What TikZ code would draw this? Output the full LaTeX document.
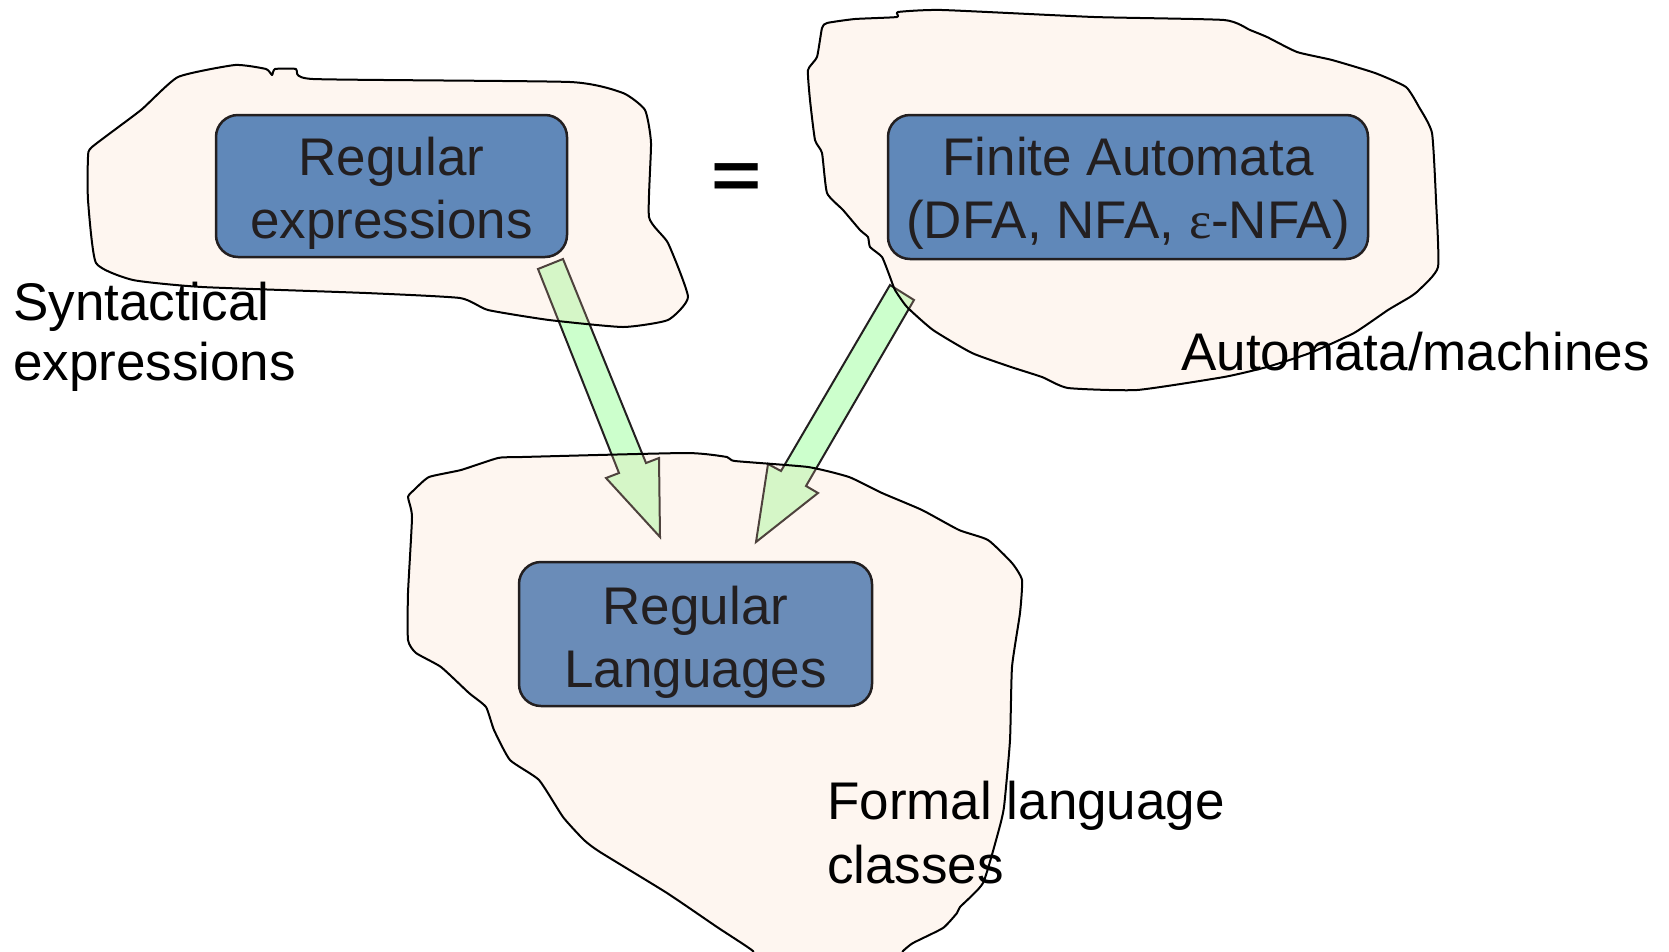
\documentclass[tikz,border=0pt]{standalone}
\usepackage{fontspec}
\setmainfont{Liberation Sans}
\newfontfamily\serifgreek{Liberation Serif}
\definecolor{blobfill}{RGB}{250,210,180}
\definecolor{boxfill}{RGB}{96,136,185}
\definecolor{boxfillB}{RGB}{106,140,184}
\definecolor{arrowfill}{RGB}{204,255,204}
\definecolor{inkdark}{RGB}{35,31,32}
\newcommand\bigtext{\fontsize{53}{63}\selectfont}
\newcommand\eqtext{\fontsize{86}{100}\selectfont\bfseries}
\begin{document}
\begin{tikzpicture}[x=1pt,y=-1pt,
  blob/.style={draw=black, line width=2pt, fill=blobfill, fill opacity=0.2, line join=round},
  arrowblk/.style={draw=inkdark, line width=2pt, fill=arrowfill, line join=miter},
  box/.style={draw=inkdark, line width=2.5pt, rounded corners=22pt, inner sep=0pt},
  boxtext/.style={font=\bigtext, text=inkdark, align=center, inner sep=0pt, anchor=base},
  label/.style={font=\bigtext, text=black, inner sep=0pt, align=left, anchor=base west}]
\path[use as bounding box] (0,0) rectangle (1669,951);
\clip (0,0) rectangle (1669,951);
% block arrows
\draw[arrowblk] (538,269) -- (563,259) -- (646,463) -- (659,458) -- (660,537) -- (606,478) -- (619,473) -- cycle;
\draw[arrowblk] (890,285) -- (914,300) -- (806,486) -- (818,493) -- (756,542) -- (768,464) -- (781,471) -- cycle;
% blobs
\draw[blob] plot[smooth cycle, tension=0.3] coordinates {(96,263) (88,200) (88,157) (92,147) (141,110) (178,77) (235,65) (266,69) (272,75) (275,69) (296,69) (313,79) (570,82) (623,93) (645,110) (651,143) (649,217) (668,243) (688,297) (668,320) (623,327) (549,320) (488,310) (460,298) (366,293) (202,287) (133,280)};
\draw[blob] plot[smooth cycle, tension=0.3] coordinates {(897,17) (898,12) (942,10) (1094,17) (1224,20) (1250,30) (1267,37) (1297,52) (1332,60) (1375,73) (1406,87) (1419,107) (1432,133) (1436,200) (1438,267) (1419,290) (1410,297) (1388,310) (1354,333) (1310,353) (1267,367) (1224,377) (1137,390) (1068,388) (1042,377) (1011,367) (972,353) (933,330) (907,307) (895,290) (890,277) (882,257) (870,247) (868,237) (860,230) (843,210) (827,193) (822,153) (815,140) (810,100) (808,70) (817,57) (822,28) (827,23) (855,19)};
\draw[blob] plot[smooth cycle, tension=0.3] coordinates {(408,497) (414,490) (429,477) (461,470) (498,458) (522,457) (686,453) (727,457) (735,461) (808,467) (849,477) (882,493) (922,510) (959,530) (988,540) (1012,563) (1022,580) (1020,613) (1012,667) (1010,740) (1004,807) (998,833) (983,883) (960,907) (957,913) (943,928) (913,943) (903,951) (890,965) (760,965) (753,951) (717,927) (667,893) (600,852) (584,840) (563,817) (539,780) (510,760) (494,730) (486,707) (469,693) (441,667) (416,653) (408,640) (408,593) (412,517)};
% boxes
\node[box, fill=boxfill, minimum width=351pt, minimum height=142pt] (regex) at (391.5,186) {};
\node[box, fill=boxfill, minimum width=480pt, minimum height=144pt] (fa) at (1128,187) {};
\node[box, fill=boxfillB, minimum width=353pt, minimum height=144pt] (rl) at (695.5,634) {};
\node[boxtext] (regext) at (regex.center |- 0,238) {Regular\\expressions};
\node[boxtext] (fat) at (fa.center |- 0,238) {Finite Automata\\(DFA, NFA, {\serifgreek ε}-NFA)};
\node[boxtext] (rlt) at (rl.center |- 0,687) {Regular\\Languages};
% labels
\node[label, font=\fontsize{53}{60}\selectfont] (syn) at (13,380) {Syntactical\\expressions};
\node[label] (am) at (1181,370) {Automata/machines};
\node[label, font=\fontsize{53}{64}\selectfont] (flc) at (827,883) {Formal language\\classes};
\node[font=\eqtext, inner sep=0pt] (eq) at (736.5,181) {\scalebox{1}[0.78]{=}};
\end{tikzpicture}
\end{document}
